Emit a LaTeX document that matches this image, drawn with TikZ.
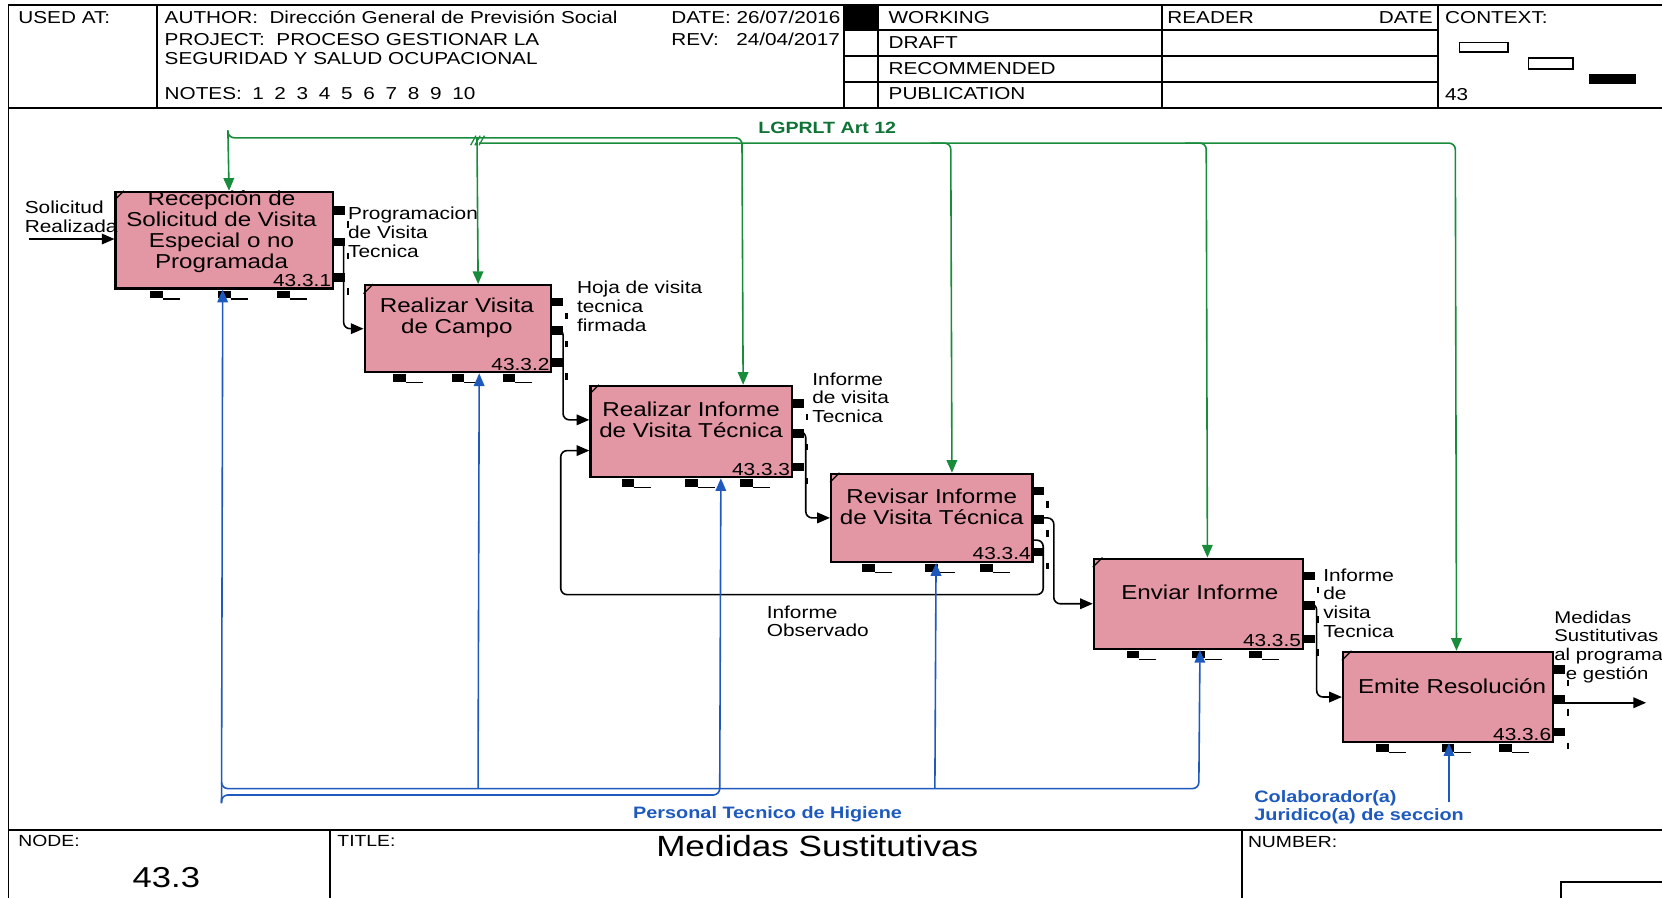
\documentclass[tikz,border=0pt]{standalone}
\usepackage{fontspec}
\setmainfont{Liberation Sans}[FakeStretch=1.2]
\usetikzlibrary{arrows.meta,calc}

\definecolor{boxfill}{RGB}{227,150,163}
\definecolor{ctlgreen}{RGB}{25,140,60}
\definecolor{lblgreen}{RGB}{15,115,55}
\definecolor{mechblue}{RGB}{30,90,190}

\tikzset{
  frame/.style={line width=0.9pt},
  hdr/.style={anchor=west, inner sep=0pt, text height=0.72em, text depth=0.2em, font=\fontsize{8.15}{9}\selectfont},
  fn/.style={draw, line width=1.1pt, fill=boxfill, inner sep=0pt, anchor=north west},
  fntext/.style={align=center, inner sep=0pt, font=\fontsize{9.5}{9.9}\selectfont},
  fnnum/.style={anchor=south east, inner sep=1.2pt, font=\fontsize{8.2}{9}\selectfont},
  lbl/.style={anchor=north west, align=left, inner sep=0pt, font=\fontsize{8.2}{8.8}\selectfont},
  tip/.style={-{Triangle[length=6pt,width=5pt]}},
  flow/.style={draw=black, line width=0.75pt, rounded corners=3pt, tip},
  ctl/.style={draw=ctlgreen, line width=0.75pt, rounded corners=3pt},
  mech/.style={draw=mechblue, line width=0.75pt, rounded corners=3pt},
}

% stubs and corner notch drawn around an activity box
\newcommand\fntabs[1]{%
  \foreach \fr in {0.2,0.52,0.88}{
    \fill ($(#1.north east)!\fr!(#1.south east)$) ++(0,2pt) rectangle ++(5pt,-4pt);
    \fill ($(#1.north east)!\fr!(#1.south east)$) ++(6pt,-5pt) rectangle ++(1.2pt,-3pt);
  }
  \foreach \fr in {0.19,0.5,0.77}{
    \fill ($(#1.south west)!\fr!(#1.south east)$) ++(-3pt,-0.5pt) rectangle ++(6pt,-3.5pt);
    \draw[line width=0.6pt] ($(#1.south west)!\fr!(#1.south east)$) ++(3pt,-4.5pt) -- ++(8pt,0);
  }
  \draw[line width=0.6pt] ([yshift=-4.5pt]#1.north west) -- ([xshift=4.5pt]#1.north west);
}

\begin{document}
\begin{tikzpicture}[x=0.5pt,y=-0.5pt]
\useasboundingbox (0,0) rectangle (1568,847);
\fill[white] (0,0) rectangle (1568,847);

% ---------- form frame ----------
\draw[frame] (8,847) -- (8,5) -- (1568,5);
\draw[frame] (8,102) -- (1568,102);
\draw[frame] (8,783) -- (1568,783);
\foreach \xx in {148,796,828,1096,1357} \draw[frame] (\xx,5) -- (\xx,102);
\foreach \yy in {28,53,77} \draw[frame] (796,\yy) -- (1357,\yy);
\fill (796,5) rectangle (828,27);
\draw[frame] (311,783) -- (311,847);
\draw[frame] (1172,783) -- (1172,847);
\draw[frame] (1473,847) -- (1473,832) -- (1568,832);

% ---------- header texts ----------
\node[hdr] (usedat) at (17,17) {USED AT:};
\node[hdr] (author) at (155,17) {AUTHOR:\ \ Dirección General de Previsión Social};
\node[hdr] (project) at (155,38) {PROJECT:\ \ PROCESO GESTIONAR LA};
\node[hdr] (project2) at (155,56) {SEGURIDAD Y SALUD OCUPACIONAL};
\node[hdr] (notes) at (155,89) {NOTES:\hspace{0.6em}1\hspace{0.62em}2\hspace{0.62em}3\hspace{0.62em}4\hspace{0.62em}5\hspace{0.62em}6\hspace{0.62em}7\hspace{0.62em}8\hspace{0.62em}9\hspace{0.62em}10};
\node[hdr] (date) at (633,17) {DATE: 26/07/2016};
\node[hdr] (rev) at (633,38) {REV:\ \ \ 24/04/2017};
\node[hdr] (working) at (838,17) {WORKING};
\node[hdr] (draft) at (838,41) {DRAFT};
\node[hdr] (recom) at (838,65) {RECOMMENDED};
\node[hdr] (publ) at (838,89) {PUBLICATION};
\node[hdr] (reader) at (1101,17) {READER};
\node[hdr, anchor=east] (rdate) at (1352,17) {DATE};
\node[hdr] (context) at (1363,17) {CONTEXT:};
\node[hdr] (ctxnum) at (1363,90) {43};
\draw[line width=0.8pt] (1377,40) rectangle (1423,49);
\draw[line width=0.8pt] (1442,55) rectangle (1484,65);
\fill (1499,70) rectangle (1543,79);

% ---------- footer texts ----------
\node[hdr, font=\fontsize{7.6}{9}\selectfont] (nodelbl) at (17,793) {NODE:};
\node[inner sep=0pt, font=\fontsize{13.6}{15}\selectfont] (nodenum) at (157,828) {43.3};
\node[hdr, font=\fontsize{7.6}{9}\selectfont] (titlelbl) at (318,793) {TITLE:};
\node[inner sep=0pt, font=\fontsize{13.8}{15}\selectfont] (title) at (771,798) {Medidas Sustitutivas};
\node[hdr, font=\fontsize{7.6}{9}\selectfont] (numlbl) at (1177,794) {NUMBER:};

% ---------- activity boxes ----------
\node[fn, minimum width=102.5pt, minimum height=45.5pt] (b1) at (108,180) {};
\node[fn, minimum width=88pt,   minimum height=41pt]   (b2) at (343,268) {};
\node[fn, minimum width=95pt,   minimum height=43pt]   (b3) at (556,363) {};
\node[fn, minimum width=95pt,   minimum height=41.5pt] (b4) at (783,446) {};
\node[fn, minimum width=98.5pt, minimum height=42.5pt] (b5) at (1031,526) {};
\node[fn, minimum width=99pt,   minimum height=42.5pt] (b6) at (1266,614) {};

\foreach \b in {b1,b2,b3,b4,b5,b6} {\fntabs{\b}}

\node[fntext] (t1) at (209,219) {Recepción de\\Solicitud de Visita\\Especial o no\\Programada};
\node[fntext] (t2) at (431,300) {Realizar Visita\\de Campo};
\node[fntext] (t3) at (652,396) {Realizar Informe\\de Visita Técnica};
\node[fntext] (t4) at (879,478) {Revisar Informe\\de Visita Técnica};
\node[fntext] (t5) at (1132,559) {Enviar Informe};
\node[fntext] (t6) at (1370,647) {Emite Resolución};

\node[fnnum] (n1) at (b1.south east) {43.3.1};
\node[fnnum] (n2) at (b2.south east) {43.3.2};
\node[fnnum] (n3) at (b3.south east) {43.3.3};
\node[fnnum] (n4) at (b4.south east) {43.3.4};
\node[fnnum] (n5) at (b5.south east) {43.3.5};
\node[fnnum] (n6) at (b6.south east) {43.3.6};

% ---------- inputs and outputs ----------
\coordinate (src) at (27,225.5);
\draw[flow] (src) -- (src -| b1.west);
\draw[flow] (b1.east) -- ++(9,0) |- (b2.west);
\draw[flow] (b2.east) -- ++(10,0) |- ([yshift=5.5pt]b3.west);
\draw[flow] (b3.east) -- ++(12,0) |- (b4.west);
\draw[flow] (b4.east) -- ++(19,0) |- (b5.west);
\coordinate (fbk) at (529,561);
\draw[flow] ([yshift=-10.5pt]b4.east) -- ++(9,0) |- (fbk) |- ([yshift=-9pt]b3.west);
\draw[flow] (b5.east) -- ++(12,0) |- (b6.west);
\coordinate (sink) at (1553,663);
\draw[flow] (b6.east |- sink) -- (sink);

\node[lbl] (l0) at (23,189) {Solicitud\\Realizada};
\node[lbl] (l1) at (328,195) {Programacion\\de Visita\\Tecnica};
\node[lbl] (l2) at (544,265) {Hoja de visita\\tecnica\\firmada};
\node[lbl] (l3) at (766,351) {Informe\\de visita\\Tecnica};
\node[lbl] (l4) at (723,571) {Informe\\Observado};
\node[lbl] (l5) at (1248,536) {Informe\\de\\visita\\Tecnica};
\node[lbl, font=\fontsize{8}{8.8}\selectfont] (l6) at (1466,576) {Medidas\\Sustitutivas\\al programa\\\hspace*{5.5pt}e gestión};

% ---------- controls ----------
\coordinate (ctop) at (215,123);
\draw[ctl,tip] (ctop) -- ([xshift=2.25pt]b1.north);
\draw[ctl,tip] (ctop) -- (215,130) -- (700,130) -- ([xshift=24.5pt]b3.north);
\draw[ctl,tip] (450,130) -- ([xshift=9.5pt]b2.north);
\draw[ctl,tip] (452,135) -- (1373,135) -- ([xshift=4pt]b6.north);
\draw[ctl,tip] (878,135) -- (897,135) -- ([xshift=9.5pt]b4.north);
\draw[ctl,tip] (1118,135) -- (1138,135) -- ([xshift=4.25pt]b5.north);
\foreach \i in {0,4,8} \draw[ctlgreen, line width=0.6pt] (444+\i,137) -- (449+\i,128);
\node[anchor=west, inner sep=0pt, text=lblgreen, font=\bfseries\fontsize{7.7}{8}\selectfont] (lg) at (715,121) {LGPRLT Art 12};

% ---------- mechanisms ----------
\draw[mech,tip] (209,758) -- ([xshift=-0.75pt]b1.south);
\draw[mech,tip] (209,738) -- (209,744) -- (1131,744) -- ([xshift=0.75pt]b5.south);
\draw[mech,tip] (209,757) -- (209,750) -- (679,750) -- ([xshift=14pt]b3.south);
\draw[mech,tip] (451,744) -- ([xshift=10pt]b2.south);
\draw[mech,tip] (882,744) -- ([xshift=2pt]b4.south);
\coordinate (m6) at (1367,757);
\draw[mech,tip] (m6) -- (m6 |- b6.south);
\node[anchor=west, inner sep=0pt, text=mechblue, font=\bfseries\fontsize{7.8}{8}\selectfont] (ph) at (597,768) {Personal Tecnico de Higiene};
\node[lbl, text=mechblue, font=\bfseries\fontsize{7.8}{8.6}\selectfont] (cj) at (1183,745) {Colaborador(a)\\Juridico(a) de seccion};

\end{tikzpicture}
\end{document}
